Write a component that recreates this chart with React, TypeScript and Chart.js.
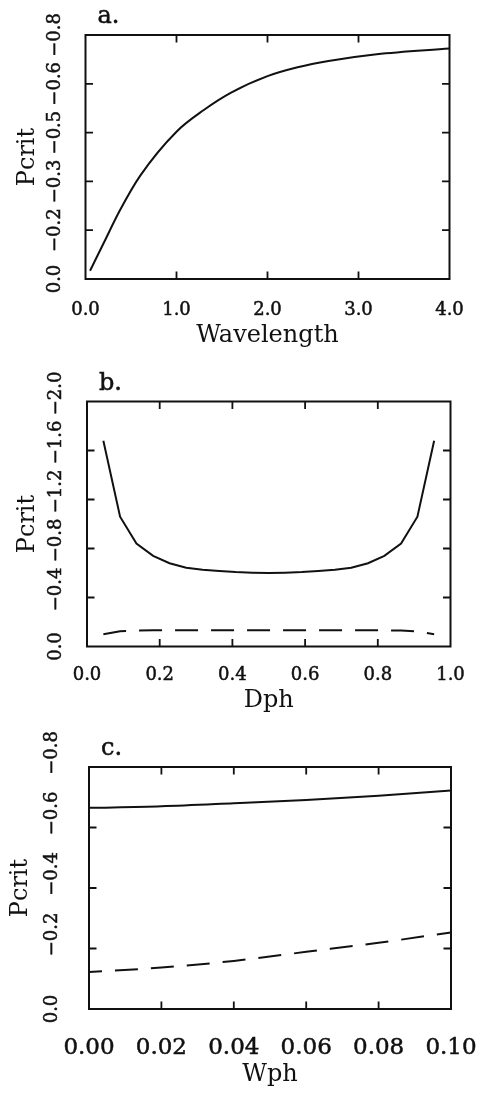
import React, { useEffect, useRef } from "react";
import { Chart, registerables } from "chart.js";

Chart.register(...registerables);

// ---------- data ----------
// Panel a: Pcrit vs Wavelength (solid)
const A_X = [0.05, 0.2, 0.38, 0.6, 1.0, 1.3, 1.6, 2.0, 2.33, 2.67, 3.2, 4.0];
const A_SOLID = [0.027, 0.118, 0.226, 0.338, 0.483, 0.554, 0.611, 0.665, 0.694, 0.715, 0.737, 0.756];
const A_X_TICKS = [0, 1, 2, 3, 4];
const A_X_LABELS = ["0.0", "1.0", "2.0", "3.0", "4.0"];
const A_Y_TICKS = [0, 0.16, 0.32, 0.48, 0.64, 0.8];
const A_Y_LABELS = ["0.0", "\u22120.2", "\u22120.3", "\u22120.5", "\u22120.6", "\u22120.8"];

// Panel b: Pcrit vs Dph (solid and dashed)
const B_X = [0.045, 0.091, 0.136, 0.182, 0.227, 0.273, 0.318, 0.364, 0.409, 0.455, 0.5,
  0.545, 0.591, 0.636, 0.682, 0.727, 0.773, 0.818, 0.864, 0.909, 0.955];
const B_SOLID = [1.68, 1.06, 0.84, 0.74, 0.68, 0.643, 0.627, 0.616, 0.608, 0.603, 0.601,
  0.603, 0.608, 0.616, 0.627, 0.643, 0.68, 0.74, 0.84, 1.06, 1.68];
const B_DASHED = [0.1, 0.125, 0.13, 0.132, 0.132, 0.132, 0.132, 0.132, 0.132, 0.132, 0.132,
  0.132, 0.132, 0.132, 0.132, 0.132, 0.132, 0.132, 0.13, 0.122, 0.1];
const B_X_TICKS = [0, 0.2, 0.4, 0.6, 0.8, 1.0];
const B_X_LABELS = ["0.0", "0.2", "0.4", "0.6", "0.8", "1.0"];
const B_Y_TICKS = [0, 0.4, 0.8, 1.2, 1.6, 2.0];
const B_Y_LABELS = ["0.0", "\u22120.4", "\u22120.8", "\u22121.2", "\u22121.6", "\u22122.0"];

// Panel c: Pcrit vs Wph (solid and dashed)
const C_X = [0, 0.02, 0.04, 0.06, 0.08, 0.1];
const C_SOLID = [0.665, 0.67, 0.68, 0.691, 0.705, 0.722];
const C_DASHED = [0.122, 0.137, 0.159, 0.189, 0.219, 0.253];
const C_X_TICKS = [0, 0.02, 0.04, 0.06, 0.08, 0.1];
const C_X_LABELS = ["0.00", "0.02", "0.04", "0.06", "0.08", "0.10"];
const C_Y_TICKS = [0, 0.2, 0.4, 0.6, 0.8];
const C_Y_LABELS = ["0.0", "\u22120.2", "\u22120.4", "\u22120.6", "\u22120.8"];

const PANEL_LETTERS = ["a.", "b.", "c."];
const X_TITLES = ["Wavelength", "Dph", "Wph"];
const Y_TITLE = "Pcrit";

// ---------- style ----------
const W = 482;
const INK = "#111111";
const FONT = "'DejaVu Serif', 'Liberation Serif', serif";
const TICK_FONT = 18;
const TITLE_FONT = 24;
const TICK_LEN = 7.5;
const DASH = [23, 13];

type Series = { x: number[]; y: number[]; dashed: boolean; smooth: boolean; dashOffset?: number };
type PanelCfg = {
  height: number;
  area: { left: number; right: number; top: number; bottom: number };
  xMin: number; xMax: number; yMin: number; yMax: number;
  xTicks: number[]; xLabels: string[]; yTicks: number[]; yLabels: string[];
  series: Series[];
  letter: string; letterBase: number;
  xTitle: string; xTitlePad: number; yTitlePad: number;
  xLabelY: number; xLabelFont: number; yLabelX: number; yLabelShift: number;
};

const PANELS: PanelCfg[] = [
  {
    height: 360,
    area: { left: 85.5, right: 449.5, top: 35, bottom: 279 },
    xMin: 0, xMax: 4, yMin: 0, yMax: 0.8,
    xTicks: A_X_TICKS, xLabels: A_X_LABELS, yTicks: A_Y_TICKS, yLabels: A_Y_LABELS,
    series: [{ x: A_X, y: A_SOLID, dashed: false, smooth: true }],
    letter: PANEL_LETTERS[0], letterBase: 23,
    xTitle: X_TITLES[0], xTitlePad: 12, yTitlePad: 15.5,
    xLabelY: 310, xLabelFont: TICK_FONT, yLabelX: 55, yLabelShift: 0,
  },
  {
    height: 360,
    area: { left: 87, right: 450.5, top: 41.5, bottom: 286.5 },
    xMin: 0, xMax: 1, yMin: 0, yMax: 2,
    xTicks: B_X_TICKS, xLabels: B_X_LABELS, yTicks: B_Y_TICKS, yLabels: B_Y_LABELS,
    series: [
      { x: B_X, y: B_SOLID, dashed: false, smooth: false },
      { x: B_X, y: B_DASHED, dashed: true, smooth: false, dashOffset: 0 },
    ],
    letter: PANEL_LETTERS[1], letterBase: 30,
    xTitle: X_TITLES[1], xTitlePad: 7.5, yTitlePad: 16,
    xLabelY: 315, xLabelFont: TICK_FONT, yLabelX: 56, yLabelShift: -8,
  },
  {
    height: 373,
    area: { left: 89, right: 451, top: 47, bottom: 289 },
    xMin: 0, xMax: 0.1, yMin: 0, yMax: 0.8,
    xTicks: C_X_TICKS, xLabels: C_X_LABELS, yTicks: C_Y_TICKS, yLabels: C_Y_LABELS,
    series: [
      { x: C_X, y: C_SOLID, dashed: false, smooth: true },
      { x: C_X, y: C_DASHED, dashed: true, smooth: true, dashOffset: 10 },
    ],
    letter: PANEL_LETTERS[2], letterBase: 35,
    xTitle: X_TITLES[2], xTitlePad: 6.5, yTitlePad: 9,
    xLabelY: 328, xLabelFont: 23, yLabelX: 52.5, yLabelShift: -14,
  },
];

function boldText(ctx: CanvasRenderingContext2D, text: string, x: number, y: number) {
  ctx.fillText(text, x, y);
  ctx.strokeText(text, x, y);
}

function makeDecor(p: PanelCfg) {
  return {
    id: "decor",
    afterDraw(chart: any) {
      const { ctx, chartArea: ca, scales } = chart;
      const xs = scales.x;
      const ys = scales.y;
      const eps = 1e-9;
      ctx.save();
      ctx.strokeStyle = INK;
      ctx.fillStyle = INK;
      // frame
      ctx.lineWidth = 2;
      ctx.strokeRect(ca.left, ca.top, ca.right - ca.left, ca.bottom - ca.top);
      // inward ticks
      ctx.lineWidth = 1.8;
      ctx.beginPath();
      xs.ticks.forEach((t: any) => {
        if (t.value <= xs.min + eps || t.value >= xs.max - eps) return;
        const px = xs.getPixelForValue(t.value);
        ctx.moveTo(px, ca.bottom);
        ctx.lineTo(px, ca.bottom - TICK_LEN);
        ctx.moveTo(px, ca.top);
        ctx.lineTo(px, ca.top + TICK_LEN);
      });
      ys.ticks.forEach((t: any) => {
        if (t.value <= ys.min + eps || t.value >= ys.max - eps) return;
        const py = ys.getPixelForValue(t.value);
        ctx.moveTo(ca.left, py);
        ctx.lineTo(ca.left + TICK_LEN, py);
        ctx.moveTo(ca.right, py);
        ctx.lineTo(ca.right - TICK_LEN, py);
      });
      ctx.stroke();
      // tick labels
      ctx.lineWidth = 0.5;
      ctx.textAlign = "center";
      ctx.textBaseline = "middle";
      ctx.font = `${p.xLabelFont}px ${FONT}`;
      xs.ticks.forEach((t: any, i: number) => {
        const px = xs.getPixelForValue(t.value);
        boldText(ctx, p.xLabels[i], px, p.xLabelY);
      });
      ctx.font = `${TICK_FONT}px ${FONT}`;
      ys.ticks.forEach((t: any, i: number) => {
        const py = ys.getPixelForValue(t.value) + (i === 0 ? 0 : p.yLabelShift);
        ctx.save();
        ctx.translate(p.yLabelX, py);
        ctx.rotate(-Math.PI / 2);
        boldText(ctx, p.yLabels[i], 0, 0);
        ctx.restore();
      });
      // panel letter
      ctx.font = `${TITLE_FONT}px ${FONT}`;
      ctx.textAlign = "left";
      ctx.textBaseline = "alphabetic";
      boldText(ctx, p.letter, ca.left + 12, p.letterBase);
      ctx.restore();
    },
  };
}

function buildConfig(p: PanelCfg): any {
  return {
    type: "line",
    data: {
      datasets: p.series.map((s) => ({
        data: s.x.map((x, i) => ({ x, y: s.y[i] })),
        borderColor: INK,
        borderWidth: 2,
        borderDash: s.dashed ? DASH : [],
        borderDashOffset: s.dashOffset || 0,
        pointRadius: 0,
        tension: 0,
        cubicInterpolationMode: s.smooth ? "monotone" : "default",
        fill: false,
      })),
    },
    options: {
      responsive: false,
      animation: false,
      events: [],
      layout: { padding: { left: 0, top: p.area.top, right: W - p.area.right, bottom: 0 } },
      plugins: { legend: { display: false }, tooltip: { enabled: false }, title: { display: false } },
      scales: {
        x: {
          type: "linear",
          position: "bottom",
          min: p.xMin,
          max: p.xMax,
          grid: { display: false },
          border: { display: false },
          ticks: { display: false },
          afterBuildTicks: (s: any) => {
            s.ticks = p.xTicks.map((v) => ({ value: v }));
          },
          afterFit: (s: any) => {
            s.height = p.height - p.area.bottom;
          },
          title: {
            display: true,
            text: p.xTitle,
            color: INK,
            font: { family: FONT, size: TITLE_FONT, lineHeight: 1 },
            padding: { top: 0, bottom: p.xTitlePad },
          },
        },
        y: {
          type: "linear",
          position: "left",
          min: p.yMin,
          max: p.yMax,
          grid: { display: false },
          border: { display: false },
          ticks: { display: false },
          afterBuildTicks: (s: any) => {
            s.ticks = p.yTicks.map((v) => ({ value: v }));
          },
          afterFit: (s: any) => {
            s.width = p.area.left;
          },
          title: {
            display: true,
            text: Y_TITLE,
            color: INK,
            font: { family: FONT, size: TITLE_FONT, lineHeight: 1 },
            padding: { top: p.yTitlePad, bottom: 0 },
          },
        },
      },
    },
    plugins: [makeDecor(p)],
  };
}

function Panel({ cfg }: { cfg: PanelCfg }) {
  const ref = useRef<HTMLCanvasElement>(null);
  useEffect(() => {
    if (!ref.current) return;
    const chart = new Chart(ref.current, buildConfig(cfg));
    return () => chart.destroy();
  }, [cfg]);
  return (
    <canvas
      ref={ref}
      width={W}
      height={cfg.height}
      style={{ display: "block", width: W, height: cfg.height }}
    />
  );
}

export default function App() {
  return (
    <div style={{ position: "absolute", left: 0, top: 0, width: W, height: 1093, background: "#fff" }}>
      {PANELS.map((p, i) => (
        <Panel key={i} cfg={p} />
      ))}
    </div>
  );
}
